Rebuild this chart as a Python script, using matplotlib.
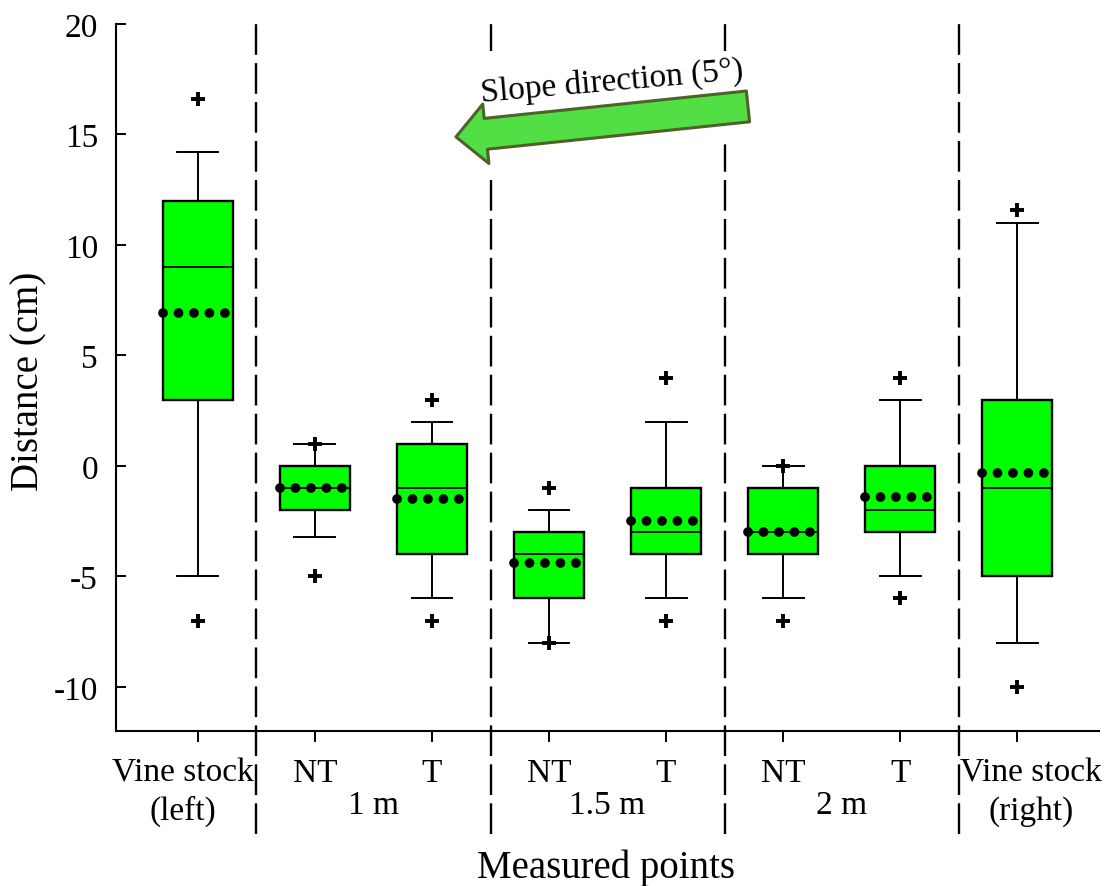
import matplotlib
matplotlib.use("Agg")
import matplotlib.pyplot as plt
from matplotlib.patches import Polygon
from matplotlib.transforms import ScaledTranslation

plt.rcParams["font.family"] = ["Liberation Serif", "DejaVu Serif"]
plt.rcParams["font.size"] = 24
plt.rcParams["axes.unicode_minus"] = False

# box statistics per measured point (cm)
positions = [1, 2, 3, 4, 5, 6, 7, 8]
tick_labels = ["Vine stock\n(left)", "NT", "T", "NT", "T", "NT", "T", "Vine stock\n(right)"]
whislo = [-5, -3.2, -6, -8, -6, -6, -5, -8]
q1 = [3, -2, -4, -6, -4, -4, -3, -5]
med = [9, -1, -1, -4, -3, -3, -2, -1]
q3 = [12, 0, 1, -3, -1, -1, 0, 3]
whishi = [14.2, 1, 2, -2, 2, 0, 3, 11]
means = [6.9, -1, -1.5, -4.4, -2.5, -3, -1.4, -0.3]
fliers = [[16.6, -7], [1, -5], [3, -7], [-1, -8], [4, -7], [0, -7], [4, -6], [11.6, -10]]

groups = ["1 m", "1.5 m", "2 m"]
group_pos = [2.5, 4.5, 6.5]
separators = [1.5, 3.5, 5.5, 7.5]

fig = plt.figure(figsize=(11.06, 8.87), dpi=100)
ax = fig.add_axes([0.1049, 0.1747, 0.8888, 0.7971])

stats = []
for i in range(len(positions)):
    stats.append(dict(med=med[i], q1=q1[i], q3=q3[i], whislo=whislo[i],
                      whishi=whishi[i], fliers=fliers[i]))

ax.bxp(stats, positions=positions, widths=0.6, capwidths=0.35,
       patch_artist=True, manage_ticks=False,
       boxprops=dict(facecolor="#00ff00", edgecolor="black", linewidth=1.7),
       medianprops=dict(color="black", linewidth=1.3),
       whiskerprops=dict(color="black", linewidth=1.4),
       capprops=dict(color="black", linewidth=1.4),
       flierprops=dict(marker="+", markersize=9.5, markeredgewidth=2.8,
                       markeredgecolor="black"))

# mean shown as a row of dots across each box
for p, m in zip(positions, means):
    ax.plot([p - 0.3, p + 0.3], [m, m], color="black", lw=7,
            linestyle=(0, (0.01, 1.58)), dash_capstyle="round", zorder=4)

for s in separators:
    ax.axvline(s, ymin=-0.146, ymax=1, color="black", lw=1.7,
               dashes=(13, 3.5), clip_on=False, zorder=1)

ax.set_xlim(0.3, 8.7)
ax.set_ylim(-12, 20)
ax.set_yticks([-10, -5, 0, 5, 10, 15, 20])
ax.set_xticks(positions)
ax.set_xticklabels(tick_labels, linespacing=1.3)
ax.tick_params(axis="y", direction="in", length=7.5, width=1.4, pad=13)
ax.tick_params(axis="x", direction="out", length=8, width=1.4, pad=11)
for side in ["top", "right"]:
    ax.spines[side].set_visible(False)
for side in ["left", "bottom"]:
    ax.spines[side].set_linewidth(1.5)

# the two end labels sit slightly outward from their ticks
labels = ax.get_xticklabels()
labels[0].set_transform(labels[0].get_transform()
                        + ScaledTranslation(-11 / 72, 0, fig.dpi_scale_trans))
labels[-1].set_transform(labels[-1].get_transform()
                         + ScaledTranslation(10 / 72, 0, fig.dpi_scale_trans))

for g, x in zip(groups, group_pos):
    ax.text(x, -0.116, g, transform=ax.get_xaxis_transform(),
            ha="center", va="baseline")

fig.text(29 / 1106, 1 - 381 / 887, "Distance (cm)", rotation=90,
         ha="center", va="center", fontsize=28)
fig.text(606 / 1106, 1 - 878 / 887, "Measured points", ha="center",
         va="baseline", fontsize=28)

# white backing behind the slope arrow
cover = [(445, 52), (760, 52), (760, 140), (445, 188)]
cover = [(x / 1106, 1 - y / 887) for x, y in cover]
ax.add_patch(Polygon(cover, closed=True, facecolor="white", edgecolor="none",
                     transform=fig.transFigure, zorder=2))

ax.annotate("", xy=(3.205, 14.89), xytext=(5.70, 16.27),
            arrowprops=dict(arrowstyle="simple,head_length=21.6,head_width=43,tail_width=22.3",
                            mutation_scale=1, shrinkA=0, shrinkB=0,
                            fc="#52df45", ec="#4f6228", lw=2.2),
            zorder=5)
ax.text(4.54, 17.03, "Slope direction (5°)", rotation=5, rotation_mode="anchor",
        ha="center", va="baseline", zorder=6)

fig.savefig("out.png", dpi=100)
